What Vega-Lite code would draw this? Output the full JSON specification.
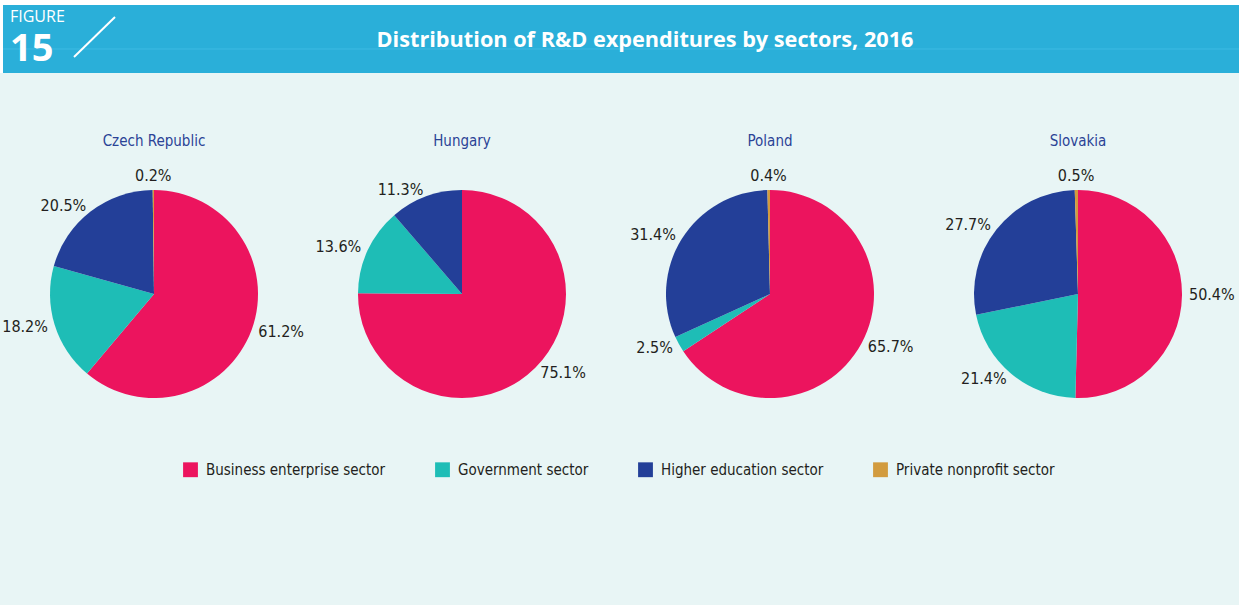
{
  "$schema": "https://vega.github.io/schema/vega-lite/v6.json",
  "background": "#e8f5f5",
  "padding": {"left": 0, "top": 0, "right": 0, "bottom": 193},
  "spacing": 103,
  "bounds": "flush",
  "config": {"view": {"stroke": null}, "font": "DejaVu Sans Condensed, Roboto, sans-serif"},
  "vconcat": [
    {
      "width": 1239,
      "height": 73,
      "view": {"fill": "#ffffff", "stroke": null},
      "data": {"values": [{"figure": "FIGURE", "num": "15", "title": "Distribution of R&D expenditures by sectors, 2016"}]},
      "layer": [
        {"mark": {"type": "rect", "color": "#2aafd9"}, "encoding": {"x": {"value": 3}, "x2": {"value": 1239}, "y": {"value": 5}, "y2": {"value": 73}}},
        {"mark": {"type": "rule", "color": "#3dbae3", "strokeWidth": 1}, "encoding": {"x": {"value": 3}, "x2": {"value": 1239}, "y": {"value": 49}, "y2": {"value": 49}}},
        {"mark": {"type": "text", "align": "left", "baseline": "alphabetic", "color": "#ffffff", "fontSize": 16, "font": "Open Sans"}, "encoding": {"text": {"field": "figure"}, "x": {"value": 10}, "y": {"value": 22}}},
        {"mark": {"type": "text", "align": "left", "baseline": "alphabetic", "color": "#ffffff", "fontSize": 38, "fontWeight": "bold", "font": "Open Sans"}, "encoding": {"text": {"field": "num"}, "x": {"value": 10}, "y": {"value": 61}}},
        {"mark": {"type": "rule", "color": "#ffffff", "strokeWidth": 2}, "encoding": {"x": {"value": 74}, "y": {"value": 57}, "x2": {"value": 115}, "y2": {"value": 17}}},
        {"mark": {"type": "text", "align": "center", "baseline": "middle", "color": "#ffffff", "fontSize": 21.7, "fontWeight": "bold", "font": "Open Sans"}, "encoding": {"text": {"field": "title"}, "x": {"value": 645}, "y": {"value": 40}}}
      ]
    },
    {
      "data": {"values": [
        {"country": "Czech Republic", "sector": "Business enterprise sector", "share": 61.2},
        {"country": "Czech Republic", "sector": "Government sector", "share": 18.2},
        {"country": "Czech Republic", "sector": "Higher education sector", "share": 20.5},
        {"country": "Czech Republic", "sector": "Private nonprofit sector", "share": 0.2},
        {"country": "Hungary", "sector": "Business enterprise sector", "share": 75.1},
        {"country": "Hungary", "sector": "Government sector", "share": 13.6},
        {"country": "Hungary", "sector": "Higher education sector", "share": 11.3},
        {"country": "Poland", "sector": "Business enterprise sector", "share": 65.7},
        {"country": "Poland", "sector": "Government sector", "share": 2.5},
        {"country": "Poland", "sector": "Higher education sector", "share": 31.4},
        {"country": "Poland", "sector": "Private nonprofit sector", "share": 0.4},
        {"country": "Slovakia", "sector": "Business enterprise sector", "share": 50.4},
        {"country": "Slovakia", "sector": "Government sector", "share": 21.4},
        {"country": "Slovakia", "sector": "Higher education sector", "share": 27.7},
        {"country": "Slovakia", "sector": "Private nonprofit sector", "share": 0.5}
      ]},
      "transform": [
        {"calculate": "format(datum.share, '.1f') + '%'", "as": "label"},
        {"joinaggregate": [{"op": "sum", "field": "share", "as": "total"}], "groupby": ["country"]},
        {"window": [{"op": "sum", "field": "share", "as": "cum"}], "groupby": ["country"], "sort": [{"field": "sector", "order": "ascending"}], "frame": [null, 0]},
        {"calculate": "100 * (datum.cum - datum.share / 2) / datum.total", "as": "mid"}
      ],
      "facet": {"column": {"field": "country", "type": "nominal", "title": null,
        "header": {"labelFontSize": 15, "labelColor": "#2b4396", "labelFont": "DejaVu Sans Condensed, Roboto, sans-serif", "labelPadding": 27}}},
      "spacing": 0,
      "bounds": "flush",
      "spec": {
        "width": 308,
        "height": 236,
        "resolve": {"scale": {"theta": "independent"}},
        "layer": [
          {
            "mark": {"type": "arc", "outerRadius": 104, "strokeWidth": 0},
            "encoding": {
              "theta": {"field": "share", "type": "quantitative", "stack": "normalize"},
              "order": {"field": "sector", "sort": "ascending"},
              "color": {"field": "sector", "type": "nominal",
                "scale": {"domain": ["Business enterprise sector", "Government sector", "Higher education sector", "Private nonprofit sector"], "range": ["#ec145e", "#1ebdb6", "#233f98", "#d29b3e"]},
                "legend": {"title": null, "orient": "none", "legendX": 183, "legendY": 462, "direction": "horizontal", "symbolType": "square", "symbolSize": 220, "symbolStrokeWidth": 0, "labelFontSize": 15, "labelLimit": 400, "labelFont": "DejaVu Sans Condensed, Roboto, sans-serif", "labelColor": "#231f20", "columnPadding": 49, "labelOffset": 8}}
            }
          },
          {
            "transform": [{"filter": "datum.mid < 45"}],
            "mark": {"type": "text", "radius": 111, "align": "left", "baseline": "middle", "fontSize": 16, "color": "#231f20", "font": "DejaVu Sans Condensed, Roboto, sans-serif"},
            "encoding": {
              "theta": {"field": "mid", "type": "quantitative", "scale": {"domain": [0, 100]}},
              "text": {"field": "label"}
            }
          },
          {
            "transform": [{"filter": "datum.mid >= 45 && datum.mid < 95"}],
            "mark": {"type": "text", "radius": 111, "align": "right", "baseline": "middle", "fontSize": 16, "color": "#231f20", "font": "DejaVu Sans Condensed, Roboto, sans-serif"},
            "encoding": {
              "theta": {"field": "mid", "type": "quantitative", "scale": {"domain": [0, 100]}},
              "text": {"field": "label"}
            }
          },
          {
            "transform": [{"filter": "datum.mid >= 95"}],
            "mark": {"type": "text", "radius": 118, "align": "center", "baseline": "middle", "fontSize": 16, "color": "#231f20", "font": "DejaVu Sans Condensed, Roboto, sans-serif"},
            "encoding": {
              "theta": {"field": "mid", "type": "quantitative", "scale": {"domain": [0, 100]}},
              "text": {"field": "label"}
            }
          }
        ]
      }
    }
  ]
}
